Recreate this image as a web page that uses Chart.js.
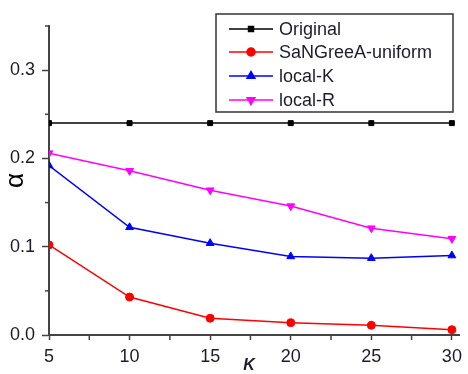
<!DOCTYPE html>
<html>
<head>
<meta charset="utf-8">
<script src="https://cdn.jsdelivr.net/npm/chart.js@4/dist/chart.umd.min.js"></script>
<style>
  html, body { margin: 0; padding: 0; background: #fff; }
  #wrap { width: 468px; height: 374px; }
</style>
</head>
<body>
<div id="wrap"><canvas id="chart" width="468" height="374"></canvas></div>
<script>
const kValues = [5, 10, 15, 20, 25, 30];
const original = [0.240, 0.240, 0.240, 0.240, 0.240, 0.240];
const sangreea = [0.102, 0.043, 0.019, 0.014, 0.011, 0.006];
const localK = [0.192, 0.122, 0.104, 0.089, 0.087, 0.090];
const localR = [0.206, 0.186, 0.164, 0.146, 0.121, 0.109];

const seriesNames = ['Original', 'SaNGreeA-uniform', 'local-K', 'local-R'];
const seriesColors = ['#000000', '#ff0000', '#0000ff', '#ff00ff'];
const pointStyles = ['rect', 'circle', 'triangle', 'triangle'];
const pointRotations = [0, 0, 0, 180];
const pointRadii = [3.5, 4, 4.5, 4.5];

const xTicks = [5, 7.5, 10, 12.5, 15, 17.5, 20, 22.5, 25, 27.5, 30];
const yTicks = [0, 0.05, 0.1, 0.15, 0.2, 0.25, 0.3, 0.35];

const textColor = '#1c1c2c';
const axisColor = '#444';
const fontFamily = 'Arial, "Liberation Sans", sans-serif';

function toPoints(values) {
    return kValues.map((k, i) => ({ x: k, y: values[i] }));
}

const allSeries = [original, sangreea, localK, localR];
const datasets = allSeries.map((values, i) => ({
    label: seriesNames[i],
    data: toPoints(values),
    borderColor: seriesColors[i],
    backgroundColor: seriesColors[i],
    borderWidth: 1.5,
    pointStyle: pointStyles[i],
    rotation: pointRotations[i],
    pointRadius: pointRadii[i],
    pointBorderWidth: 1,
    tension: 0
}));

function isMajorX(v) { return Math.abs(v % 5) < 1e-6; }
function isMajorY(v) { return Math.abs(Math.round(v * 10) - v * 10) < 1e-6; }

// short minor ticks + x title
const minorTicks = {
    id: 'minorTicks',
    afterDraw(chart) {
        const ctx = chart.ctx;
        const xs = chart.scales.x, ys = chart.scales.y;
        ctx.save();
        ctx.strokeStyle = axisColor;
        ctx.lineWidth = 1.5;
        xTicks.filter(v => !isMajorX(v)).forEach(v => {
            const px = xs.getPixelForValue(v);
            ctx.beginPath();
            ctx.moveTo(px, xs.top);
            ctx.lineTo(px, xs.top + 5);
            ctx.stroke();
        });
        yTicks.filter(v => !isMajorY(v)).forEach(v => {
            const py = ys.getPixelForValue(v);
            ctx.beginPath();
            ctx.moveTo(ys.right, py);
            ctx.lineTo(ys.right - 4, py);
            ctx.stroke();
        });
        ctx.fillStyle = textColor;
        ctx.font = 'italic bold 16px ' + fontFamily;
        ctx.textAlign = 'center';
        ctx.textBaseline = 'middle';
        ctx.fillText('K', 249, 366);
        ctx.restore();
    }
};

// boxed legend in the top right
const boxLegend = {
    id: 'boxLegend',
    afterDraw(chart) {
        const ctx = chart.ctx;
        const left = 216, top = 14, right = 453, bottom = 112;
        const rows = [29, 52, 76, 100];
        ctx.save();
        ctx.strokeStyle = '#333';
        ctx.lineWidth = 1.5;
        ctx.strokeRect(left, top, right - left, bottom - top);
        ctx.font = '18px ' + fontFamily;
        ctx.textBaseline = 'middle';
        seriesNames.forEach((name, i) => {
            const y = rows[i];
            ctx.strokeStyle = seriesColors[i];
            ctx.lineWidth = 1.5;
            ctx.beginPath();
            ctx.moveTo(229, y);
            ctx.lineTo(273, y);
            ctx.stroke();
            ctx.fillStyle = seriesColors[i];
            Chart.helpers.drawPoint(ctx, {
                pointStyle: pointStyles[i],
                rotation: pointRotations[i],
                radius: pointRadii[i],
                borderWidth: 1
            }, 251, y);
            ctx.fillStyle = textColor;
            ctx.fillText(name, 279, y + 1);
        });
        ctx.restore();
    }
};

new Chart(document.getElementById('chart'), {
    type: 'line',
    data: { datasets: datasets },
    options: {
        responsive: false,
        animation: false,
        layout: { padding: { top: 26, left: 0, right: 0, bottom: 0 } },
        plugins: {
            legend: { display: false },
            tooltip: { enabled: false }
        },
        scales: {
            x: {
                type: 'linear',
                min: 5,
                max: 30.5,
                afterBuildTicks: scale => { scale.ticks = xTicks.map(v => ({ value: v })); },
                afterFit: scale => { scale.height = 39; },
                border: { display: true, color: axisColor, width: 2 },
                grid: {
                    drawOnChartArea: false,
                    tickLength: 5,
                    tickWidth: 1.5,
                    tickColor: c => isMajorX(c.tick.value) ? axisColor : 'rgba(0,0,0,0)'
                },
                ticks: {
                    autoSkip: false,
                    maxRotation: 0,
                    padding: 6,
                    color: textColor,
                    font: { family: fontFamily, size: 18 },
                    callback: v => isMajorX(v) ? String(v) : ''
                }
            },
            y: {
                min: 0,
                max: 0.35,
                afterBuildTicks: scale => { scale.ticks = yTicks.map(v => ({ value: v })); },
                afterFit: scale => { scale.width = 49; },
                border: { display: true, color: axisColor, width: 2 },
                grid: {
                    drawOnChartArea: false,
                    tickLength: 7,
                    tickWidth: 1.5,
                    tickColor: c => isMajorY(c.tick.value) ? axisColor : 'rgba(0,0,0,0)'
                },
                ticks: {
                    autoSkip: false,
                    padding: 7,
                    color: textColor,
                    font: { family: fontFamily, size: 18 },
                    callback: v => isMajorY(v) ? v.toFixed(1) : ''
                },
                title: {
                    display: true,
                    text: 'α',
                    color: '#000',
                    padding: { top: 0, bottom: 0 },
                    font: { family: fontFamily, size: 26 }
                }
            }
        }
    },
    plugins: [minorTicks, boxLegend]
});
</script>
</body>
</html>
